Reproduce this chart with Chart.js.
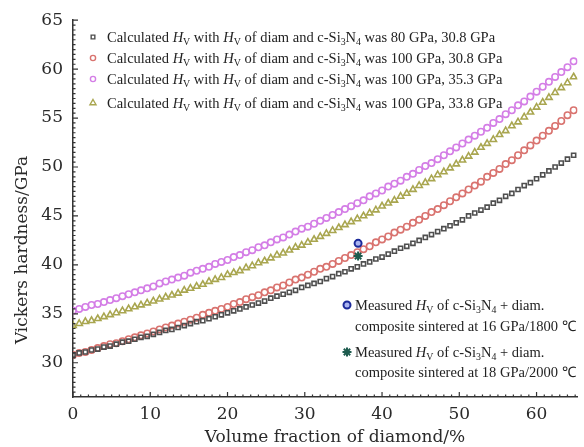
<!DOCTYPE html>
<html>
<head>
<meta charset="utf-8">
<script src="https://cdn.jsdelivr.net/npm/chart.js@4.4.1/dist/chart.umd.min.js"></script>
<style>
  html, body { margin: 0; padding: 0; background: #fff; }
  #wrap { width: 584px; height: 447px; position: relative; }
</style>
</head>
<body>
<div id="wrap"><canvas id="c"></canvas></div>
<script>
// 金刚石体积分数 (%)
const volFrac = [0,0.8,1.6,2.4,3.2,4,4.8,5.6,6.4,7.2,8,8.8,9.6,10.4,11.2,12,12.8,13.6,14.4,15.2,16,16.8,17.6,18.4,19.2,20,20.8,21.6,22.4,23.2,24,24.8,25.6,26.4,27.2,28,28.8,29.6,30.4,31.2,32,32.8,33.6,34.4,35.2,36,36.8,37.6,38.4,39.2,40,40.8,41.6,42.4,43.2,44,44.8,45.6,46.4,47.2,48,48.8,49.6,50.4,51.2,52,52.8,53.6,54.4,55.2,56,56.8,57.6,58.4,59.2,60,60.8,61.6,62.4,63.2,64,64.8];

// 计算硬度 (GPa)
const hv80_308 = [30.8,31.0,31.1,31.3,31.4,31.6,31.7,31.9,32.1,32.2,32.4,32.6,32.7,32.9,33.1,33.3,33.4,33.6,33.8,34.0,34.2,34.3,34.5,34.7,34.9,35.1,35.3,35.5,35.7,35.9,36.1,36.3,36.6,36.8,37.0,37.2,37.4,37.7,37.9,38.1,38.3,38.6,38.8,39.1,39.3,39.6,39.8,40.1,40.3,40.6,40.8,41.1,41.4,41.7,41.9,42.2,42.5,42.8,43.1,43.4,43.7,44.0,44.3,44.6,45.0,45.3,45.6,45.9,46.3,46.6,47.0,47.3,47.7,48.1,48.4,48.8,49.2,49.6,50.0,50.4,50.8,51.2];
const hv100_308 = [30.8,31.0,31.1,31.3,31.5,31.7,31.9,32.0,32.2,32.4,32.6,32.8,33.0,33.2,33.4,33.6,33.8,34.0,34.2,34.4,34.6,34.9,35.1,35.3,35.5,35.7,36.0,36.2,36.5,36.7,36.9,37.2,37.4,37.7,37.9,38.2,38.5,38.7,39.0,39.3,39.6,39.8,40.1,40.4,40.7,41.0,41.3,41.6,41.9,42.3,42.6,42.9,43.3,43.6,43.9,44.3,44.6,45.0,45.4,45.7,46.1,46.5,46.9,47.3,47.7,48.1,48.5,49.0,49.4,49.8,50.3,50.7,51.2,51.7,52.2,52.7,53.2,53.7,54.2,54.7,55.3,55.8];
const hv100_353 = [35.3,35.5,35.7,35.9,36.0,36.2,36.4,36.6,36.8,37.0,37.2,37.4,37.6,37.8,38.1,38.3,38.5,38.7,38.9,39.2,39.4,39.6,39.8,40.1,40.3,40.5,40.8,41.0,41.3,41.5,41.8,42.0,42.3,42.6,42.8,43.1,43.4,43.7,43.9,44.2,44.5,44.8,45.1,45.4,45.7,46.0,46.3,46.6,47.0,47.3,47.6,48.0,48.3,48.6,49.0,49.3,49.7,50.1,50.4,50.8,51.2,51.6,52.0,52.4,52.8,53.2,53.6,54.0,54.5,54.9,55.4,55.8,56.3,56.7,57.2,57.7,58.2,58.7,59.2,59.7,60.2,60.8];
const hv100_338 = [33.8,34.0,34.2,34.3,34.5,34.7,34.9,35.1,35.3,35.5,35.7,35.9,36.1,36.3,36.5,36.7,36.9,37.1,37.4,37.6,37.8,38.0,38.3,38.5,38.7,39.0,39.2,39.4,39.7,39.9,40.2,40.4,40.7,41.0,41.2,41.5,41.8,42.0,42.3,42.6,42.9,43.2,43.5,43.8,44.1,44.4,44.7,45.0,45.3,45.6,46.0,46.3,46.6,47.0,47.3,47.7,48.1,48.4,48.8,49.2,49.5,49.9,50.3,50.7,51.1,51.5,52.0,52.4,52.8,53.3,53.7,54.2,54.6,55.1,55.6,56.1,56.6,57.1,57.6,58.1,58.6,59.2];

// 实测硬度
const meas1800 = [{ x: 36.9, y: 42.2 }];
const meas2000 = [{ x: 36.9, y: 40.9 }];

// 刻度
const xTicks = [0, 10, 20, 30, 40, 50, 60];
const yTicks = [30, 35, 40, 45, 50, 55, 60, 65];

const calcSeries = [
    { data: hv80_308,  color: '#4f4f4f', style: 'rect',     hd: '80',  hc: '30.8' },
    { data: hv100_308, color: '#d9736f', style: 'circle',   hd: '100', hc: '30.8' },
    { data: hv100_353, color: '#d47ee6', style: 'circle',   hd: '100', hc: '35.3' },
    { data: hv100_338, color: '#a9a650', style: 'triangle', hd: '100', hc: '33.8' }
];

const serif = '"Liberation Serif", "Times New Roman", serif';
const axisFont = '"DejaVu Serif", serif';

// 富文本: '' 正体, 'i' 斜体, 's' 下标
function rich(ctx, parts, x, y, size) {
    let cx = x;
    parts.forEach(([t, k]) => {
        let sz = size, dy = 0, st = '';
        if (k === 'i') st = 'italic ';
        if (k === 's') { sz = size * 0.68; dy = size * 0.22; }
        ctx.font = st + sz + 'px ' + serif;
        ctx.fillText(t, cx, y + dy);
        cx += ctx.measureText(t).width;
    });
}

const HV = [['H', 'i'], ['V', 's']];
const SiN = [['c-Si', ''], ['3', 's'], ['N', ''], ['4', 's']];

const decor = {
    id: 'decor',
    afterDraw(chart) {
        const ctx = chart.ctx;
        const xs = chart.scales.x, ys = chart.scales.y;
        const ca = chart.chartArea;
        ctx.save();
        // 向内刻度
        ctx.strokeStyle = '#333';
        ctx.lineWidth = 1.2;
        ctx.beginPath();
        for (let v = 0; v <= 65; v++) {
            const px = xs.getPixelForValue(v);
            const len = v % 10 === 0 ? 5 : 2.5;
            ctx.moveTo(px, ca.bottom); ctx.lineTo(px, ca.bottom - len);
        }
        for (let v = 27; v <= 65; v += 0.5) {
            const py = ys.getPixelForValue(v);
            const len = v % 5 === 0 ? 5 : 2.5;
            ctx.moveTo(ca.left, py); ctx.lineTo(ca.left + len, py);
        }
        ctx.stroke();

        // 坐标轴标题
        ctx.fillStyle = '#2a2a2a';
        ctx.font = '17px ' + axisFont;
        ctx.textAlign = 'center';
        ctx.textBaseline = 'middle';
        ctx.fillText('Volume fraction of diamond/%', 335, 438);
        ctx.save();
        ctx.translate(23, 250);
        ctx.rotate(-Math.PI / 2);
        ctx.fillText('Vickers hardness/GPa', 0, 0);
        ctx.restore();

        // 图例 (上)
        ctx.textAlign = 'left';
        ctx.textBaseline = 'alphabetic';
        const rows = [37, 58, 79, 103];
        calcSeries.forEach((s, i) => {
            ctx.strokeStyle = s.color;
            ctx.fillStyle = 'rgba(0,0,0,0)';
            ctx.lineWidth = 1.4;
            Chart.helpers.drawPoint(ctx, { pointStyle: s.style, radius: s.style === 'triangle' ? 3.5 : 2.6, rotation: 0, borderWidth: 1.4 }, 93, rows[i]);
            ctx.fillStyle = '#222';
            rich(ctx, [['Calculated ', ''], ...HV, [' with ', ''], ...HV, [' of diam and ', ''], ...SiN,
                [' was ' + s.hd + ' GPa, ' + s.hc + ' GPa', '']], 107, rows[i] + 5, 14.5);
        });

        // 图例 (下)
        ctx.strokeStyle = '#1c2a9a';
        ctx.fillStyle = '#aab4f0';
        ctx.lineWidth = 2;
        Chart.helpers.drawPoint(ctx, { pointStyle: 'circle', radius: 3.5, rotation: 0, borderWidth: 2 }, 347, 305);
        ctx.strokeStyle = '#1d5b4e';
        ctx.lineWidth = 2;
        Chart.helpers.drawPoint(ctx, { pointStyle: 'star', radius: 4.5, rotation: 0, borderWidth: 2 }, 347, 352);
        ctx.fillStyle = '#222';
        rich(ctx, [['Measured ', ''], ...HV, [' of ', ''], ...SiN, [' + diam.', '']], 355, 310, 14.5);
        rich(ctx, [['composite sintered at 16 GPa/1800 \u2103', '']], 355, 331, 14.5);
        rich(ctx, [['Measured ', ''], ...HV, [' of ', ''], ...SiN, [' + diam.', '']], 355, 357, 14.5);
        rich(ctx, [['composite sintered at 18 GPa/2000 \u2103', '']], 355, 377, 14.5);
        ctx.restore();
    }
};

const toXY = arr => arr.map((y, i) => ({ x: volFrac[i], y: y }));

const datasets = [
    { data: meas1800, pointStyle: 'circle', pointRadius: 3.5, borderColor: '#1c2a9a', backgroundColor: '#aab4f0', borderWidth: 2 },
    { data: meas2000, pointStyle: 'star', pointRadius: 4.5, borderColor: '#1d5b4e', backgroundColor: '#1d5b4e', borderWidth: 2 }
];
calcSeries.forEach(s => {
    datasets.push({
        data: toXY(s.data),
        pointStyle: s.style,
        pointRadius: s.style === 'triangle' ? 3.7 : (s.style === 'rect' ? 2.9 : 3.2),
        borderColor: s.color,
        backgroundColor: 'rgba(255,255,255,0)',
        borderWidth: 1.6
    });
});

new Chart(document.getElementById('c'), {
    type: 'scatter',
    data: { datasets: datasets },
    options: {
        responsive: true,
        maintainAspectRatio: false,
        animation: false,
        layout: { padding: { top: 16, right: 0, bottom: 0, left: 0 } },
        plugins: { legend: { display: false }, tooltip: { enabled: false } },
        scales: {
            x: {
                type: 'linear',
                min: 0,
                max: 65.3,
                afterFit: s => { s.height = 50; },
                afterBuildTicks: s => { s.ticks = xTicks.map(v => ({ value: v })); },
                grid: { display: false, drawTicks: false },
                border: { display: true, color: '#333', width: 1.5 },
                ticks: { color: '#2a2a2a', padding: 7, maxRotation: 0, font: { family: axisFont, size: 17 } }
            },
            y: {
                type: 'linear',
                min: 26.5,
                max: 65,
                afterFit: s => { s.width = 73; },
                afterBuildTicks: s => { s.ticks = yTicks.map(v => ({ value: v })); },
                grid: { display: false, drawTicks: false },
                border: { display: true, color: '#333', width: 1.5 },
                ticks: { color: '#2a2a2a', padding: 10, font: { family: axisFont, size: 17 } }
            }
        }
    },
    plugins: [decor]
});
</script>
</body>
</html>
